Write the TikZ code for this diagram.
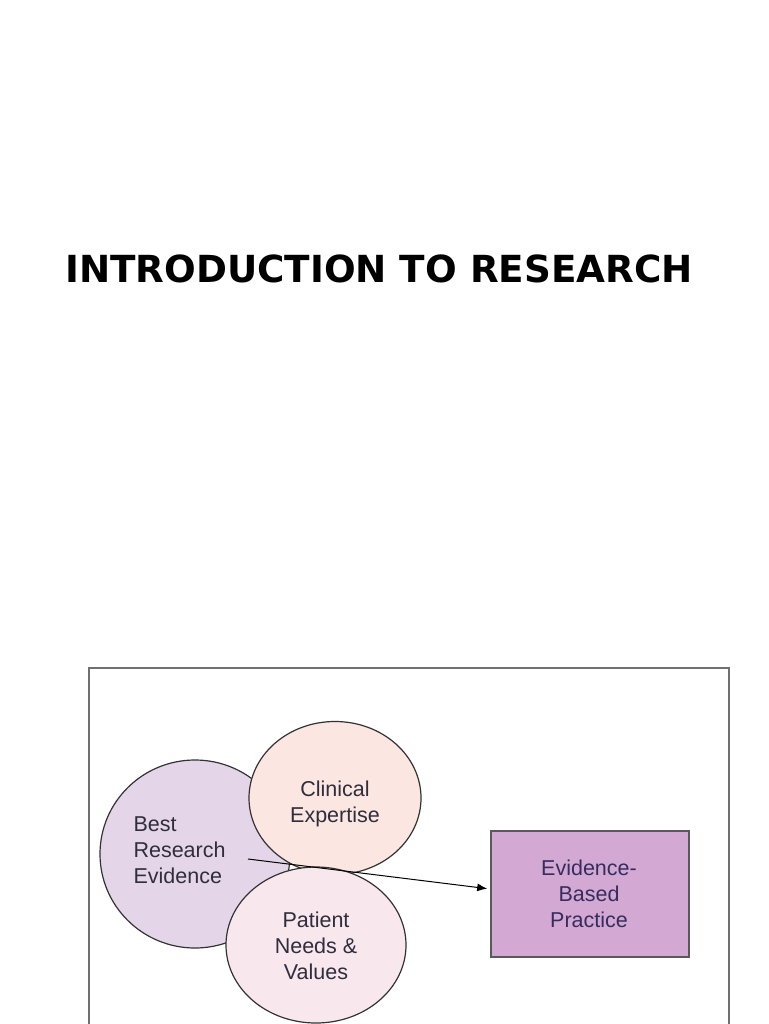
\documentclass[tikz,border=0pt]{standalone}
\usepackage{fontspec}
\setmainfont{Liberation Sans}
\newfontfamily\titlefont{DejaVu Sans}
\usetikzlibrary{shapes.geometric,arrows.meta}
\definecolor{bestfill}{HTML}{E4D6E8}
\definecolor{clinfill}{HTML}{FBE6E2}
\definecolor{patfill}{HTML}{F9E7EE}
\definecolor{ebpfill}{HTML}{D3A9D4}
\definecolor{txtc}{HTML}{2E2E3C}
\definecolor{ebptxt}{HTML}{352D5E}
\definecolor{framec}{HTML}{707070}
\tikzset{
  bubble/.style={ellipse, draw=black!80, line width=1.2pt, inner sep=0pt},
  lbl/.style={font=\fontsize{21.5}{26}\selectfont, text=txtc, align=center},
  ebpbox/.style={rectangle, draw=black!65, line width=1.6pt, fill=ebpfill, minimum width=198pt, minimum height=126pt, inner sep=0pt},
}
\begin{document}
\begin{tikzpicture}[x=1pt,y=-1pt]
\useasboundingbox (0,0) rectangle (768,1024);
\fill[white] (0,0) rectangle (768,1024);
% title
\node[anchor=center, font=\titlefont\bfseries\fontsize{37.3}{44}\selectfont] (title) at (379,269) {INTRODUCTION TO RESEARCH};
% frame
\coordinate (fbl) at (89,1024);
\coordinate (ftl) at (89,668);
\coordinate (ftr) at (729,668);
\coordinate (fbr) at (729,1024);
\draw[framec, line width=2pt] (fbl) -- (ftl) -- (ftr) -- (fbr);
% circles
\node[bubble, fill=bestfill, minimum width=190pt, minimum height=188pt] (best) at (195,854) {};
\node[bubble, fill=clinfill, minimum width=172pt, minimum height=153pt] (clin) at (335,798) {};
\node[bubble, fill=patfill, minimum width=180pt, minimum height=156pt] (pat) at (316,945) {};
% labels
\node[lbl, align=left, anchor=west] (bestt) at (130,850) {Best\\Research\\Evidence};
\node[lbl] (clint) at (335,804) {Clinical\\Expertise};
\node[lbl] (patt) at (316,946) {Patient\\Needs \&\\Values};
% box
\node[ebpbox] (ebp) at (590,894) {};
\node[lbl, text=ebptxt] (ebpt) at (589,894) {Evidence-\\Based\\Practice};
% arrow
\coordinate (astart) at (248,859);
\draw[line width=1pt, -{Latex[length=10pt,width=8pt]}, shorten >=3pt] (astart) -- ([yshift=5pt]ebp.west);
\end{tikzpicture}
\end{document}
